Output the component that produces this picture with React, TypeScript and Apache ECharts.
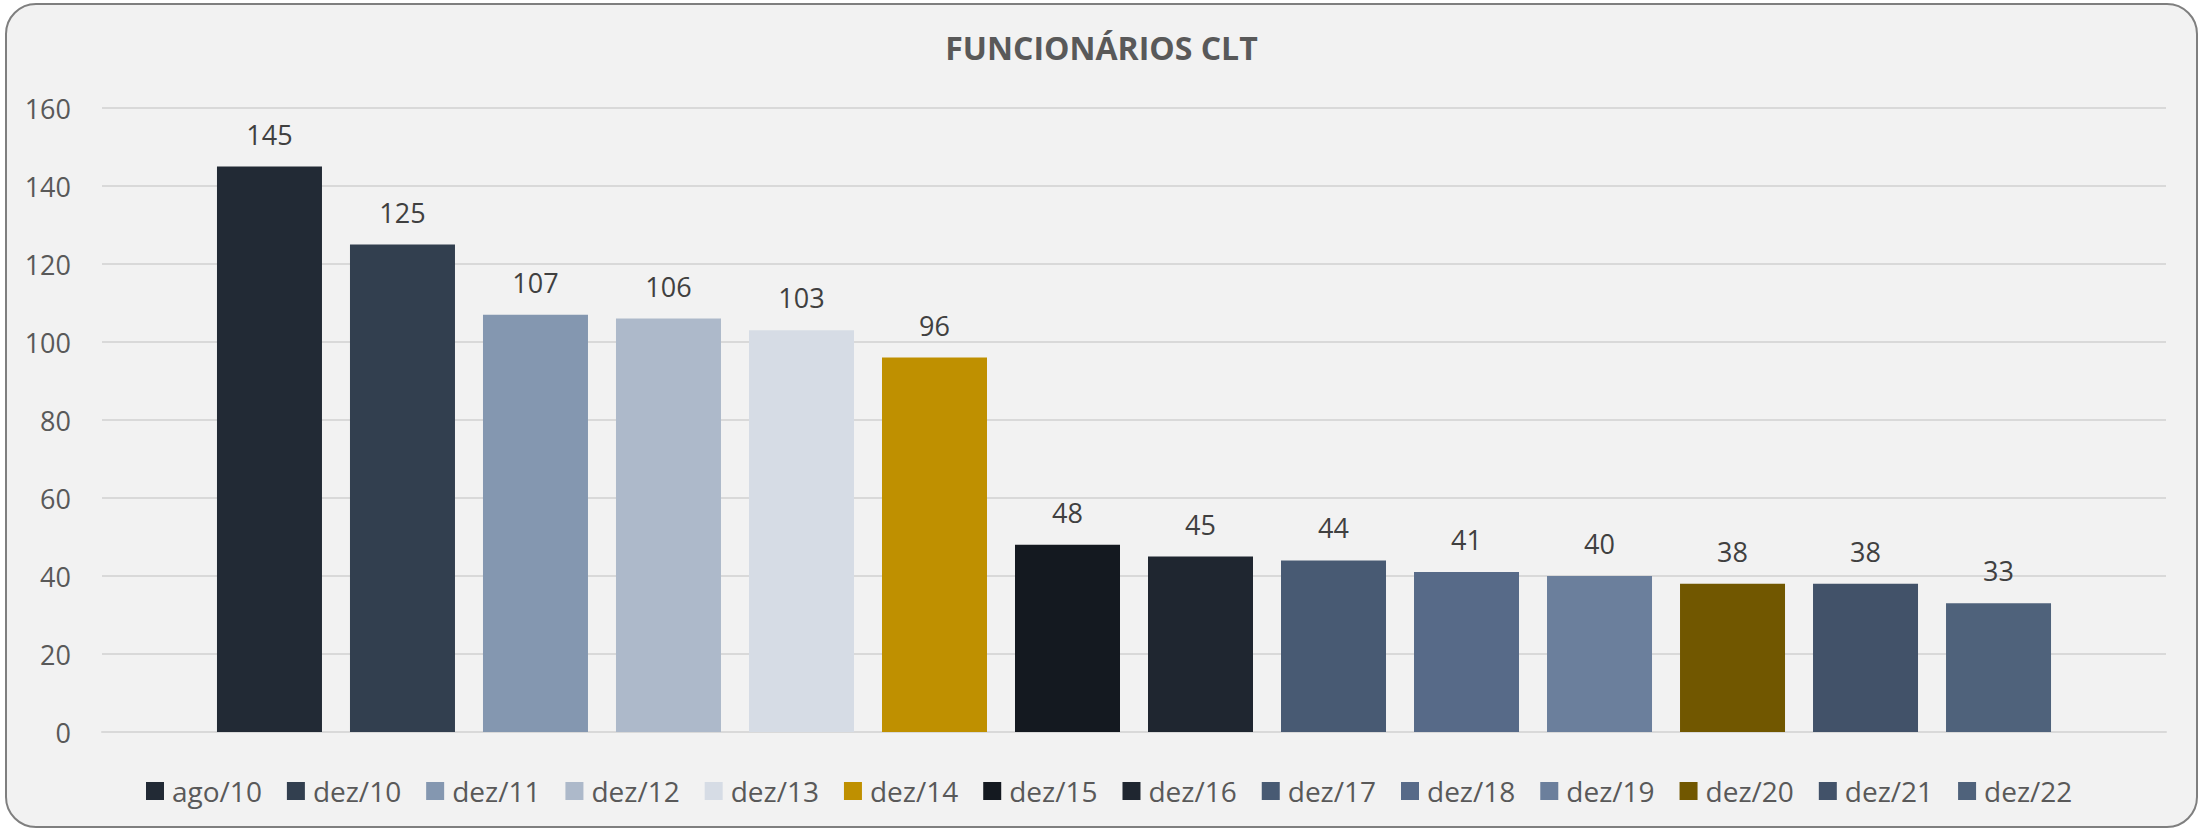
import React, { useEffect, useRef } from "react";
import * as echarts from "echarts";

const titleText = "FUNCIONÁRIOS CLT";
const periods = ["ago/10", "dez/10", "dez/11", "dez/12", "dez/13", "dez/14", "dez/15", "dez/16", "dez/17", "dez/18", "dez/19", "dez/20", "dez/21", "dez/22"];
const employees = [145, 125, 107, 106, 103, 96, 48, 45, 44, 41, 40, 38, 38, 33];
const barColors = ["#222a35", "#323f4f", "#8497b0", "#adb9ca", "#d6dce5", "#bf9000", "#141920", "#1f2630", "#485a73", "#576a88", "#6b7f9c", "#715700", "#425269", "#4f627b"];
const yMax = 160;
const yStep = 20;

const FONT = "'Open Sans', 'Noto Sans', sans-serif";

export default function App() {
  const ref = useRef<HTMLDivElement>(null);
  useEffect(() => {
    if (!ref.current) return;
    const chart = echarts.init(ref.current, undefined, { renderer: "svg" });
    const series = periods.map((p, i) => ({
      name: p,
      type: "bar",
      data: [employees[i]],
      barWidth: 105,
      barGap: "26.67%",
      itemStyle: { color: barColors[i] },
      label: {
        show: true,
        position: "top",
        distance: 19,
        color: "#404040",
        fontSize: 27,
        fontFamily: FONT,
      },
    }));
    chart.setOption({
      animation: false,
      backgroundColor: "#ffffff",
      graphic: [
        {
          type: "rect",
          z: -10,
          silent: true,
          shape: { x: 6, y: 4, width: 2191, height: 823, r: 30 },
          style: { fill: "#f2f2f2", stroke: "#7f7f7f", lineWidth: 2 },
        },
      ],
      title: {
        text: titleText,
        left: "center",
        top: 26,
        textStyle: { fontFamily: FONT, fontSize: 32, fontWeight: "bold", color: "#595959" },
      },
      legend: {
        data: periods,
        left: 141,
        top: 772,
        icon: "rect",
        itemWidth: 18,
        itemHeight: 18,
        itemGap: 25,
        textStyle: { fontFamily: FONT, fontSize: 28, color: "#595959", padding: [0, 0, 0, 3] },
      },
      grid: { left: 102, right: 37, top: 108, bottom: 100, containLabel: false },
      xAxis: {
        type: "category",
        data: [""],
        axisLine: { show: true, lineStyle: { color: "#d9d9d9", width: 2 } },
        axisTick: { show: false },
        axisLabel: { show: false },
      },
      yAxis: {
        type: "value",
        min: 0,
        max: yMax,
        interval: yStep,
        axisLine: { show: false },
        axisTick: { show: false },
        axisLabel: { fontFamily: FONT, fontSize: 27, color: "#595959", margin: 31 },
        splitLine: { lineStyle: { color: "#d9d9d9", width: 2 } },
      },
      series,
    });
    return () => chart.dispose();
  }, []);
  return (
    <div
      ref={ref}
      style={{ position: "fixed", left: 0, top: 0, width: 2203, height: 832 }}
    />
  );
}
